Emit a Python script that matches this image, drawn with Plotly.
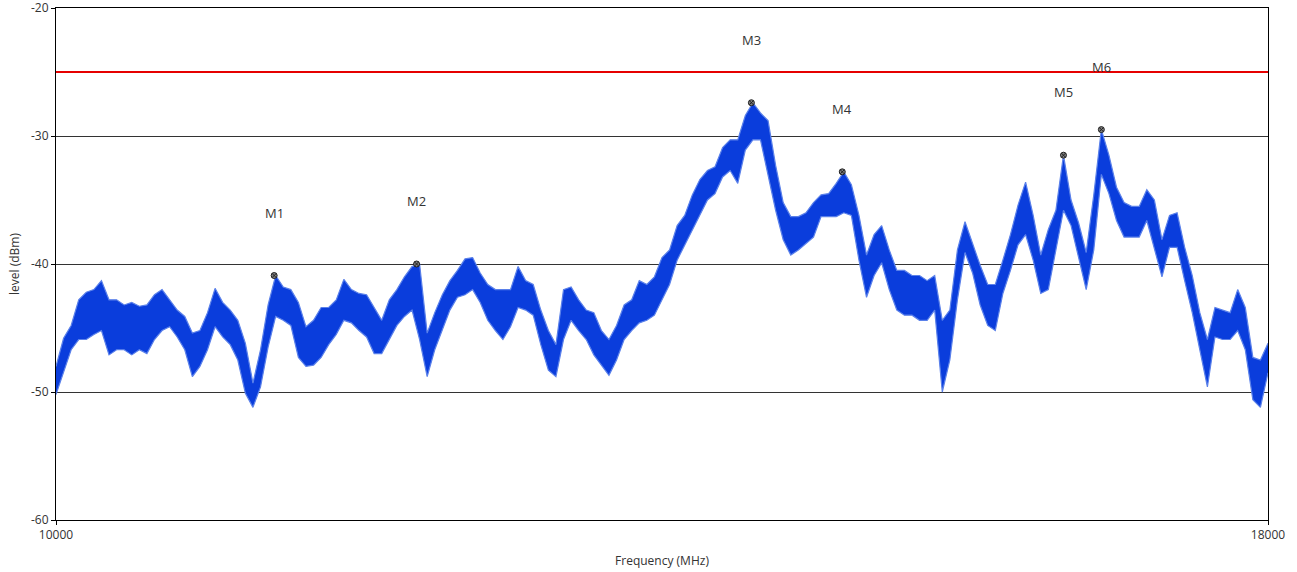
import plotly.graph_objects as go

# Sweep grid (MHz) and measured level envelope per sweep bin (dBm)
freq_mhz = list(range(10000, 18001, 50))

level_hi = [
    -48.0, -45.8, -44.8, -42.8, -42.2, -42.0, -41.3, -42.8, -42.8, -43.2,
    -43.0, -43.3, -43.2, -42.4, -42.0, -42.8, -43.6, -44.1, -45.4, -45.2,
    -43.8, -41.9, -43.0, -43.6, -44.4, -46.2, -49.3, -46.7, -43.2, -40.9,
    -41.8, -42.0, -43.0, -44.9, -44.4, -43.4, -43.4, -42.8, -41.2, -42.0,
    -42.3, -42.4, -43.4, -44.4, -42.8, -42.0, -41.0, -40.2, -40.0, -45.4,
    -43.8, -42.4, -41.3, -40.5, -39.6, -39.5, -40.7, -41.6, -42.0, -42.0,
    -42.0, -40.2, -41.3, -41.6, -43.6, -45.2, -46.3, -42.0, -41.8, -42.8,
    -43.6, -43.8, -45.2, -45.9, -44.8, -43.2, -42.8, -41.3, -41.6, -41.0,
    -39.5, -38.9, -37.0, -36.2, -34.6, -33.4, -32.7, -32.4, -30.9, -30.3,
    -30.3, -28.4, -27.4, -28.2, -28.8, -32.3, -35.2, -36.3, -36.3, -36.0,
    -35.2, -34.6, -34.5, -33.7, -32.8, -33.8, -36.2, -39.3, -37.7, -37.0,
    -38.9, -40.5, -40.5, -40.9, -40.9, -41.3, -40.9, -44.4, -43.6, -38.9,
    -36.7, -38.4, -40.1, -41.6, -41.6, -39.7, -37.7, -35.4, -33.6, -36.2,
    -39.3, -37.3, -35.8, -31.5, -35.0, -36.8, -39.1, -34.6, -29.5, -31.5,
    -34.0, -35.2, -35.5, -35.5, -34.2, -35.0, -38.1, -36.2, -36.0, -38.7,
    -40.9, -43.8, -45.9, -43.4, -43.6, -43.8, -42.0, -43.4, -47.3, -47.5,
    -46.2,
]

level_lo = [
    -50.2, -48.4, -46.7, -45.9, -45.9, -45.5, -45.2, -47.1, -46.7, -46.7,
    -47.1, -46.7, -47.0, -45.9, -45.2, -44.9, -45.7, -46.7, -48.8, -48.0,
    -46.7, -44.9, -45.7, -46.3, -47.5, -50.1, -51.2, -49.6, -46.5, -44.1,
    -44.4, -44.8, -47.3, -48.0, -47.9, -47.3, -46.3, -45.5, -44.4, -44.6,
    -45.2, -45.7, -47.0, -47.0, -45.9, -44.8, -44.1, -43.6, -45.9, -48.8,
    -46.7, -45.2, -43.6, -42.6, -42.4, -42.0, -43.0, -44.4, -45.2, -45.9,
    -44.9, -43.4, -43.6, -44.0, -46.3, -48.3, -48.8, -45.9, -44.4, -45.2,
    -45.9, -47.1, -47.9, -48.7, -47.5, -45.9, -45.2, -44.6, -44.4, -44.0,
    -42.8, -41.6, -39.7, -38.5, -37.3, -36.2, -35.0, -34.5, -33.2, -32.7,
    -33.7, -31.1, -30.3, -30.3, -33.0, -35.8, -38.1, -39.3, -38.9, -38.4,
    -37.9, -36.3, -36.3, -36.3, -36.0, -36.2, -39.7, -42.6, -40.9, -39.9,
    -42.0, -43.6, -44.0, -44.0, -44.4, -44.4, -43.6, -50.0, -47.5, -42.8,
    -39.1, -40.7, -43.2, -44.8, -45.2, -42.3, -40.5, -38.5, -37.7, -39.7,
    -42.3, -42.0, -38.9, -35.8, -37.0, -39.5, -42.0, -38.9, -33.0, -34.5,
    -36.6, -37.9, -37.9, -37.9, -36.6, -38.9, -41.0, -38.7, -38.7, -41.3,
    -43.8, -46.7, -49.6, -45.7, -45.9, -45.9, -45.2, -46.7, -50.6, -51.2,
    -48.5,
]

# Marker readouts
marker_names = ["M1", "M2", "M3", "M4", "M5", "M6"]
marker_freq = [11440, 12380, 14590, 15190, 16650, 16900]
marker_level = [-40.9, -40.0, -27.4, -32.8, -31.5, -29.5]

# Limit line
limit_freq = [10000, 18000]
limit_level = [-25, -25]

y_ticks = [-20, -30, -40, -50, -60]
x_ticks = [10000, 18000]

trace_dark = "#0a3ddc"
trace_light = "#5a80ea"
font_family = "Open Sans, Noto Sans, sans-serif"

fig = go.Figure()

# Envelope between the low and high readings of each sweep bin,
# solid core with a lighter rim
fig.add_trace(go.Scatter(
    x=freq_mhz, y=level_lo, mode="lines",
    line=dict(color=trace_light, width=1.2), hoverinfo="skip", showlegend=False,
))
fig.add_trace(go.Scatter(
    x=freq_mhz, y=level_hi, mode="lines", fill="tonexty", fillcolor=trace_dark,
    line=dict(color=trace_light, width=1.2), hoverinfo="skip", showlegend=False,
))

fig.add_trace(go.Scatter(
    x=limit_freq, y=limit_level, mode="lines",
    line=dict(color="#e60000", width=2), hoverinfo="skip", showlegend=False,
))

fig.add_trace(go.Scatter(
    x=marker_freq, y=marker_level, mode="markers",
    marker=dict(symbol="circle-x", size=6, color="#808080",
                line=dict(color="#202020", width=1)),
    hoverinfo="skip", showlegend=False,
))

for name, f, lvl in zip(marker_names, marker_freq, marker_level):
    fig.add_annotation(
        x=f, y=lvl, text=name, showarrow=False, yshift=63,
        font=dict(family=font_family, size=13, color="#333333"),
    )

fig.update_layout(
    width=1297, height=572,
    margin=dict(l=56, r=29, t=8, b=52),
    paper_bgcolor="white", plot_bgcolor="white",
    font=dict(family=font_family, size=12, color="#333333"),
    xaxis=dict(
        range=[10000, 18000], tickvals=x_ticks, ticktext=[str(v) for v in x_ticks],
        showgrid=False, zeroline=False, automargin=False, ticklabeloverflow="allow",
        showline=True, linecolor="#000000", linewidth=1, mirror=True,
        ticks="outside", ticklen=4, tickcolor="#000000",
        title=dict(text="Frequency (MHz)", standoff=14,
                   font=dict(family=font_family, size=12, color="#333333")),
        tickfont=dict(family=font_family, size=12, color="#333333"),
    ),
    yaxis=dict(
        range=[-60, -20], tickvals=y_ticks, ticktext=[str(v) for v in y_ticks],
        showgrid=True, gridcolor="#333333", gridwidth=1, zeroline=False,
        automargin=False, ticklabeloverflow="allow",
        showline=True, linecolor="#000000", linewidth=1, mirror=True,
        ticks="outside", ticklen=4, tickcolor="#000000",
        title=dict(text="level (dBm)", standoff=8,
                   font=dict(family=font_family, size=12, color="#333333")),
        tickfont=dict(family=font_family, size=12, color="#333333"),
    ),
)

fig.write_html("out.html")
